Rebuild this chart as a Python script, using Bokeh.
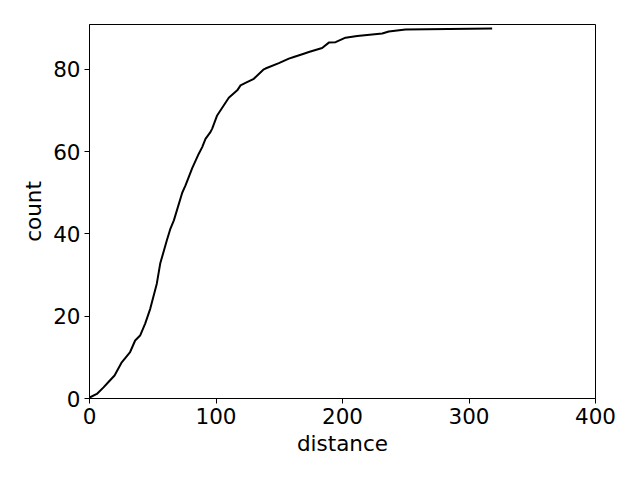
from bokeh.plotting import figure
from bokeh.models import FixedTicker, Range1d
from bokeh.embed import file_html
from bokeh.resources import INLINE

distance = [0.0, 0.5, 5.8, 11.1, 15.0, 19.8, 25.5, 32.1, 36.1, 40.0, 44.0, 48.0, 53.2,
            55.9, 61.1, 64.0, 66.7, 73.3, 75.9, 81.2, 86.4, 89.1, 91.7, 95.7, 97.0,
            100.9, 110.1, 116.8, 119.4, 123.3, 129.9, 137.8, 139.1, 149.7, 157.6,
            161.5, 169.4, 173.4, 183.9, 189.2, 194.5, 202.4, 211.6, 231.4, 236.6,
            249.8, 318.3]
count = [0.0, 0.3, 1.1, 2.7, 4.0, 5.6, 8.8, 11.3, 14.1, 15.3, 18.2, 21.8, 27.9,
         32.8, 38.4, 41.3, 43.3, 50.0, 51.8, 56.0, 59.5, 61.1, 63.1, 64.8, 65.6,
         68.8, 73.1, 74.9, 76.1, 76.7, 77.7, 80.0, 80.2, 81.5, 82.6,
         83.0, 83.8, 84.2, 85.2, 86.5, 86.6, 87.7, 88.1, 88.7, 89.2,
         89.7, 89.9]

x_ticks = [0, 100, 200, 300, 400]
y_ticks = [0, 20, 40, 60, 80]

p = figure(frame_width=506, frame_height=374, output_backend="svg", toolbar_location=None,
           x_range=Range1d(0, 400), y_range=Range1d(0, 90.9),
           min_border_left=89, min_border_right=29, min_border_top=24, min_border_bottom=66)

p.line(distance, count, line_color="black", line_width=2)

p.xgrid.visible = False
p.ygrid.visible = False
p.outline_line_color = "black"
p.outline_line_width = 1
p.outline_line_alpha = 1

p.xaxis.ticker = FixedTicker(ticks=x_ticks)
p.yaxis.ticker = FixedTicker(ticks=y_ticks)
p.xaxis.axis_label = "distance"
p.yaxis.axis_label = "count"

for ax in (p.xaxis[0], p.yaxis[0]):
    ax.axis_line_color = "black"
    ax.major_tick_line_color = "black"
    ax.major_tick_in = 0
    ax.major_tick_out = 5
    ax.minor_tick_line_color = None
    ax.major_label_text_font = "DejaVu Sans"
    ax.major_label_text_font_size = "21.5px"
    ax.major_label_text_color = "black"
    ax.axis_label_text_font = "DejaVu Sans"
    ax.axis_label_text_font_size = "21.5px"
    ax.axis_label_text_font_style = "normal"
    ax.axis_label_text_color = "black"
    ax.major_label_standoff = 4
    ax.axis_label_standoff = 4

p.background_fill_color = "white"
p.border_fill_color = "white"

open("out.html", "w").write(file_html(p, INLINE))
